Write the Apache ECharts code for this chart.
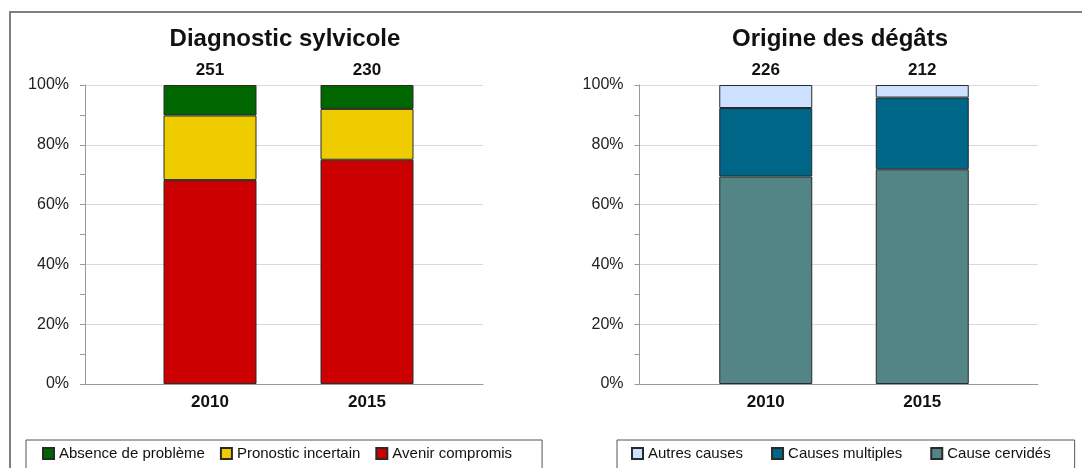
<!DOCTYPE html>
<html>
<head>
<meta charset="utf-8">
<script src="https://cdn.jsdelivr.net/npm/echarts@6/dist/echarts.min.js"></script>
<style>
  body { margin: 0; background: #fff; }
  #wrap { position: relative; width: 1082px; height: 468px; overflow: hidden; }
  #frame { position: absolute; left: 9px; top: 11px; width: 1100px; height: 500px;
           border-top: 2px solid #808080; border-left: 2px solid #808080; }
  #chart { position: absolute; left: 0; top: 0; width: 1082px; height: 468px; }
</style>
</head>
<body>
<div id="wrap">
  <div id="frame"></div>
  <div id="chart"></div>
</div>
<script>
// categories
const years = ['2010', '2015'];

// Diagnostic sylvicole (% of plots, stacked to 100)
const diagTotals = [251, 230];
const absence = [10.2, 8.0];
const pronostic = [21.6, 17.0];
const avenir = [68.2, 75.0];

// Origine des dégâts
const degatsTotals = [226, 212];
const autres = [7.7, 4.2];
const multiples = [22.9, 24.0];
const cervides = [69.4, 71.8];

const FONT = 'Liberation Sans, Arial, sans-serif';
const edge = { borderColor: '#2a2a2a', borderWidth: 1 };

function axisY(idx, show) {
  return {
    type: 'value', gridIndex: idx, min: 0, max: 100, interval: 20,
    show: show,
    axisLine: { show: true, lineStyle: { color: '#9a9a9a', width: 1 } },
    axisTick: { show: true, length: 5, lineStyle: { color: '#9a9a9a' } },
    minorTick: { show: true, splitNumber: 2, length: 5, lineStyle: { color: '#9a9a9a' } },
    splitLine: { show: true, lineStyle: { color: '#d9d9d9', width: 1 } },
    axisLabel: { margin: 16, color: '#222', fontSize: 16, fontFamily: FONT,
                 formatter: v => v + '%' }
  };
}
function axisYHidden(idx) {
  return { type: 'value', gridIndex: idx, min: 0, max: 100, show: false };
}
function axisXBase(idx) {
  return {
    type: 'category', gridIndex: idx, data: [''],
    axisLine: { show: true, lineStyle: { color: '#9a9a9a', width: 1 } },
    axisTick: { show: false }, axisLabel: { show: false }
  };
}
function axisXCat(idx) {
  return {
    type: 'category', gridIndex: idx, data: years,
    axisLine: { show: false }, axisTick: { show: false },
    axisLabel: { margin: 10, color: '#111', fontSize: 17, fontWeight: 'bold', fontFamily: FONT }
  };
}
function topLabel(totals) {
  return { show: true, position: 'top', distance: 6, color: '#111', fontSize: 17,
           fontWeight: 'bold', fontFamily: FONT, formatter: p => totals[p.dataIndex] };
}
function bar(name, data, color, xi, stack, label) {
  const s = { name: name, type: 'bar', xAxisIndex: xi, yAxisIndex: xi, stack: stack,
              data: data, barWidth: 93, itemStyle: Object.assign({ color: color }, edge) };
  if (label) s.label = label;
  return s;
}

const legendBase = {
  orient: 'horizontal', icon: 'rect', itemWidth: 11, itemHeight: 11, itemGap: 15,
  top: 440, borderColor: '#555', borderWidth: 1,
  textStyle: { fontSize: 15, color: '#111', fontFamily: FONT }
};

const chart = echarts.init(document.getElementById('chart'));
chart.setOption({
  animation: false,
  title: [
    { text: 'Diagnostic sylvicole', left: 285, top: 27, textAlign: 'center', padding: 0,
      textStyle: { fontSize: 24, fontWeight: 'bold', color: '#111', fontFamily: FONT } },
    { text: 'Origine des dégâts', left: 840, top: 27, textAlign: 'center', padding: 0,
      textStyle: { fontSize: 24, fontWeight: 'bold', color: '#111', fontFamily: FONT } }
  ],
  legend: [
    Object.assign({}, legendBase, { left: 26, padding: [6, 30, 40, 16],
      data: ['Absence de problème', 'Pronostic incertain', 'Avenir compromis'] }),
    Object.assign({}, legendBase, { left: 617, itemGap: 28, padding: [6, 24, 40, 14],
      data: ['Autres causes', 'Causes multiples', 'Cause cervidés'] })
  ],
  grid: [
    { left: 85, right: 599, top: 85, bottom: 84 },
    { left: 131.5, width: 314, top: 85, bottom: 84 },
    { left: 639.5, right: 44, top: 85, bottom: 84 },
    { left: 687.5, width: 313, top: 85, bottom: 84 }
  ],
  xAxis: [axisXBase(0), axisXCat(1), axisXBase(2), axisXCat(3)],
  yAxis: [axisY(0, true), axisYHidden(1), axisY(2, true), axisYHidden(3)],
  series: [
    bar('Avenir compromis', avenir, '#cc0000', 1, 'diag'),
    bar('Pronostic incertain', pronostic, '#eecc00', 1, 'diag'),
    bar('Absence de problème', absence, '#006600', 1, 'diag', topLabel(diagTotals)),
    bar('Cause cervidés', cervides, '#538587', 3, 'deg'),
    bar('Causes multiples', multiples, '#006688', 3, 'deg'),
    bar('Autres causes', autres, '#cce0ff', 3, 'deg', topLabel(degatsTotals))
  ]
});
</script>
</body>
</html>
